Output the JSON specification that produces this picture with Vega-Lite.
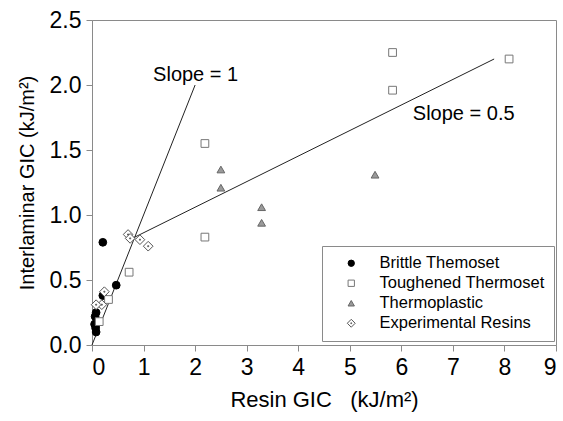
{
  "$schema": "https://vega.github.io/schema/vega-lite/v6.json",
  "width": 464,
  "height": 325,
  "autosize": {"type": "none"},
  "padding": {"left": 92, "top": 20, "right": 7, "bottom": 76},
  "background": "white",
  "config": {
    "font": "Liberation Sans",
    "view": {"stroke": "#8a8a8a", "strokeWidth": 1},
    "axis": {
      "grid": false,
      "domainColor": "#8a8a8a",
      "tickColor": "#8a8a8a",
      "tickSize": 6,
      "labelFont": "Liberation Sans",
      "labelFontSize": 23,
      "labelColor": "#000",
      "titleFont": "Liberation Sans",
      "titleFontWeight": "normal",
      "titleColor": "#000"
    },
    "legend": {
      "orient": "none",
      "legendX": 230,
      "legendY": 226,
      "strokeColor": "#8a8a8a",
      "fillColor": "white",
      "padding": 9,
      "labelFont": "Liberation Sans",
      "labelFontSize": 16.5,
      "labelColor": "#000",
      "labelLimit": 400,
      "symbolSize": 40,
      "symbolStrokeWidth": 1,
      "rowPadding": 3,
      "symbolOffset": 12,
      "labelOffset": 20
    }
  },
  "datasets": {
    "pts": [
      {"type": "Brittle Themoset", "x": 0.21, "y": 0.79},
      {"type": "Brittle Themoset", "x": 0.47, "y": 0.46},
      {"type": "Brittle Themoset", "x": 0.21, "y": 0.38},
      {"type": "Brittle Themoset", "x": 0.08, "y": 0.25},
      {"type": "Brittle Themoset", "x": 0.06, "y": 0.22},
      {"type": "Brittle Themoset", "x": 0.05, "y": 0.16},
      {"type": "Brittle Themoset", "x": 0.07, "y": 0.13},
      {"type": "Brittle Themoset", "x": 0.08, "y": 0.1},
      {"type": "Toughened Thermoset", "x": 0.72, "y": 0.56},
      {"type": "Toughened Thermoset", "x": 0.32, "y": 0.35},
      {"type": "Toughened Thermoset", "x": 0.14, "y": 0.18},
      {"type": "Toughened Thermoset", "x": 5.83, "y": 2.25},
      {"type": "Toughened Thermoset", "x": 5.83, "y": 1.96},
      {"type": "Toughened Thermoset", "x": 8.09, "y": 2.2},
      {"type": "Toughened Thermoset", "x": 2.19, "y": 1.55},
      {"type": "Toughened Thermoset", "x": 2.19, "y": 0.83},
      {"type": "Thermoplastic", "x": 2.5, "y": 1.35},
      {"type": "Thermoplastic", "x": 2.5, "y": 1.21},
      {"type": "Thermoplastic", "x": 3.29, "y": 1.06},
      {"type": "Thermoplastic", "x": 3.29, "y": 0.94},
      {"type": "Thermoplastic", "x": 5.49, "y": 1.31},
      {"type": "Experimental Resins", "x": 0.7, "y": 0.85},
      {"type": "Experimental Resins", "x": 0.74, "y": 0.82},
      {"type": "Experimental Resins", "x": 0.93, "y": 0.81},
      {"type": "Experimental Resins", "x": 1.09, "y": 0.76},
      {"type": "Experimental Resins", "x": 0.24, "y": 0.41},
      {"type": "Experimental Resins", "x": 0.19, "y": 0.31},
      {"type": "Experimental Resins", "x": 0.08, "y": 0.31}
    ],
    "lines": [
      {"line": "s1", "x": 0, "y": 0},
      {"line": "s1", "x": 2.0, "y": 2.0},
      {"line": "s05", "x": 0.78, "y": 0.82},
      {"line": "s05", "x": 7.8, "y": 2.2}
    ],
    "labels": [
      {"text": "Slope = 1", "x": 2.01, "y": 2.08},
      {"text": "Slope = 0.5", "x": 7.21, "y": 1.78}
    ]
  },
  "layer": [
    {
      "data": {"name": "lines"},
      "mark": {"type": "line", "color": "#222", "strokeWidth": 1},
      "encoding": {
        "x": {"field": "x", "type": "quantitative"},
        "y": {"field": "y", "type": "quantitative"},
        "detail": {"field": "line"}
      }
    },
    {
      "data": {"name": "pts"},
      "mark": {"type": "point", "filled": true, "strokeWidth": 1, "opacity": 1},
      "encoding": {
        "x": {
          "field": "x", "type": "quantitative",
          "scale": {"domain": [0, 9], "nice": false, "zero": false},
          "axis": {"values": [0,1,2,3,4,5,6,7,8,9], "title": "Resin GIC\u00a0\u00a0 (kJ/m²)", "titleFontSize": 22, "titlePadding": 10, "labelPadding": 5}
        },
        "y": {
          "field": "y", "type": "quantitative",
          "scale": {"domain": [0, 2.5], "nice": false},
          "axis": {"values": [0, 0.5, 1, 1.5, 2, 2.5], "format": ".1f", "title": "Interlaminar GIC (kJ/m²)", "titleFontSize": 20, "titlePadding": 12, "labelPadding": 5}
        },
        "shape": {
          "field": "type", "type": "nominal",
          "scale": {
            "domain": ["Brittle Themoset", "Toughened Thermoset", "Thermoplastic", "Experimental Resins"],
            "range": ["circle", "square", "triangle-up", "M0,-1.25L1.25,0L0,1.25L-1.25,0Z M-0.13,-0.13L0.13,-0.13L0.13,0.13L-0.13,0.13Z"]
          },
          "legend": {"title": null}
        },
        "fill": {
          "field": "type", "type": "nominal",
          "scale": {
            "domain": ["Brittle Themoset", "Toughened Thermoset", "Thermoplastic", "Experimental Resins"],
            "range": ["#000000", "#ffffff", "#9a9a9a", "#ffffff"]
          },
          "legend": {"title": null}
        },
        "stroke": {
          "field": "type", "type": "nominal",
          "scale": {
            "domain": ["Brittle Themoset", "Toughened Thermoset", "Thermoplastic", "Experimental Resins"],
            "range": ["#000000", "#777777", "#666666", "#555555"]
          },
          "legend": {"title": null}
        },
        "size": {"value": 60}
      }
    },
    {
      "data": {"name": "labels"},
      "mark": {"type": "text", "fontSize": 20, "font": "Liberation Sans", "color": "#000", "align": "center", "baseline": "middle"},
      "encoding": {
        "x": {"field": "x", "type": "quantitative"},
        "y": {"field": "y", "type": "quantitative"},
        "text": {"field": "text"}
      }
    }
  ]
}
